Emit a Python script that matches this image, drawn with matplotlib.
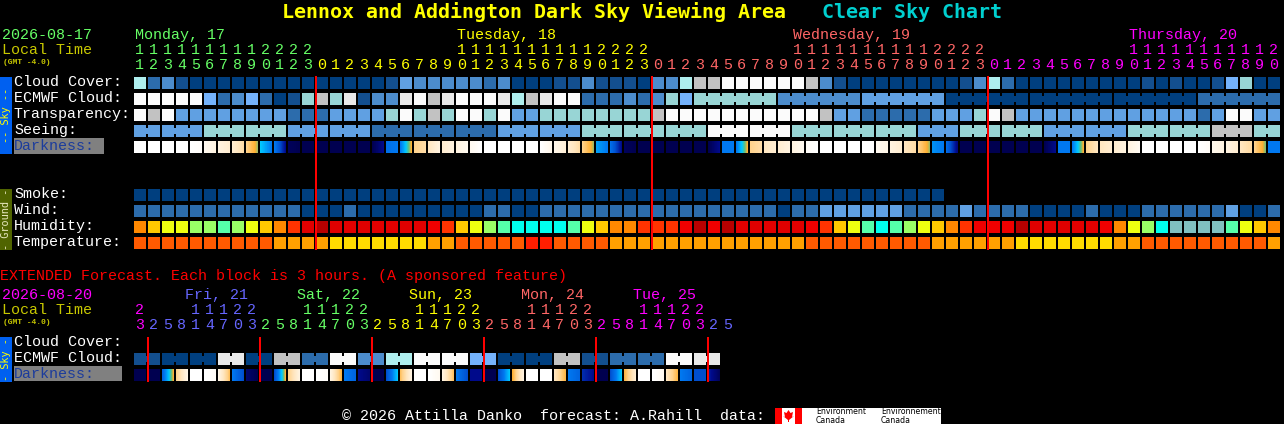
import numpy as np
import matplotlib
matplotlib.use("Agg")
import matplotlib.pyplot as plt
from matplotlib.patches import Rectangle, Polygon
from matplotlib.colors import LinearSegmentedColormap

# ---------- data ----------
cloud_cover = [3,8,7,9,10,10,10,10,10,10,10,10,10,10,10,10,10,10,9,6,7,
               7,7,7,7,8,7,10,10,10,9,9,7,9,9,9,10,7,7,3,2,2,0,0,0,0,0,0,2,7,9,10,
               10,10,10,10,10,10,10,9,7,3,8,10,10,10,10,10,10,10,10,10,9,10,9,10,10,9,5,4,10,10]
ecmwf_cloud = [0,0,0,0,0,5,8,7,5,8,10,9,4,2,4,1,9,7,7,1,0,
               2,1,0,0,0,1,3,2,1,0,0,8,8,8,7,8,7,4,5,
               4,4,4,4,4,4,7,7,7,7,7,7,6,6,6,6,6,6,
               10,10,10,10,10,10,10,10,10,10,10,10,10,10,10,10,10,10,8,8,8,8,8,8]
ecmwf_sizes = [1]*40 + [6]*7
transparency = [0,2,0,6,6,6,6,6,6,6,6,8,8,8,6,6,6,6,4,0,4,
                2,4,0,0,4,0,6,6,4,4,4,4,4,4,4,4,2,0,0,0,0,0,0,0,0,0,0,0,2,6,6,
                8,8,8,8,8,6,6,6,4,0,2,6,6,6,6,6,6,6,6,6,6,6,6,6,8,6,0,0,6,6]
seeing_values = [6,6,4,4,6,6,8,8,8,6,6,4,4,4,0,0,4,4,4,6,4,4,6,6,4,4,2,4]
seeing_sizes = [2] + [3]*26 + [2]
darkness_left = [0,0,0,0,0,.5,1,1.5,3,5,6,8.8,9,9,9,9,9,9,6.2,6,3,
                 2,1.5,1,.5,0,0,0,0,0,.7,1.5,3,5.5,6.2,8.8,9,9,9,9,9,9,6,6,3,2,1.5,1,.3,0,0,0,
                 0,.5,1,2,3,5.7,6.3,9,9,9,9,9,9,9,6,6,3,2,1.5,1,0,0,0,0,0,.6,1,2,3,6]
darkness_right = [0,0,0,0,.2,1,1.5,2.5,4.3,6,8,9,9,9,9,9,9,8,6,4,2.5,
                  1,1,.5,0,0,0,0,0,.7,1.3,2.5,4.3,6,8,9,9,9,9,9,9,8,6,4,2.5,1.5,1,.5,0,0,0,0,
                  0,.8,1.5,2.5,4.3,6,8.2,9,9,9,9,9,9,8,6,4,2,1.5,1,.4,0,0,0,0,.3,1,1.5,2.6,4.4,6]
smoke = [10]*58
wind = [8,8,8,8,8,8,8,8,8,8,8,8,10,10,10,8,10,10,10,10,10,
        10,10,10,10,8,8,10,10,8,8,8,8,8,8,8,8,8,8,8,8,8,8,8,8,8,10,8,8,6,6,6,
        6,6,6,8,8,8,8,6,8,8,8,8,10,10,10,10,8,10,10,10,8,8,8,8,8,8,6,10,10,8]
humidity = list("nyllggsglynorxrrrrrrr"
                "RoylgsccccslynnoooRxRxrrrrrRoyl"
                "scsglynoRRRxrrrrrRnlgcttttslyn")
temperature = list("aaaaaaaaaabbbbccccccc"
                   "bbaaaaaddaaaabbbbbbbbbbbbbbaaaa"
                   "aaaaabbbbbbcccccccbbaaaaaaaaab")
ext_ecmwf = [9,10,10,1,10,2,8,0,7,3,0,0,5,10,10,2,9,8,8,0,1]
ext_dark_left = [9,9,6.5,3,0,0,.8,6,8.5,9,7,3,0,0,1,6,8,9,7,3.5,0,0,1,6,8,9,7,4,0,0,2,6,7.5,9,7,3.8,0,0,2,6,7,7.7]
ext_dark_right = [9,9,4,.8,0,.3,3.5,7,9,9,4,1,0,.2,3.8,6.5,8.5,9,5,1,0,.5,3.5,7,8,9,5,1,0,0,3.8,6.5,8,9,5,1.5,0,.5,3.8,6.5,7,8.8]
ext_hours = [23] + [2,5,8,11,14,17,20,23]*5 + [2,5]
main_first_hour = 11
main_labels = ["Cloud Cover:", "ECMWF Cloud:", "Transparency:", "Seeing:", "Darkness:"]
ground_labels = ["Smoke:", "Wind:", "Humidity:", "Temperature:"]
ext_labels = ["Cloud Cover:", "ECMWF Cloud:", "Darkness:"]
day_labels = [("Monday, 17", 0), ("Tuesday, 18", 23), ("Wednesday, 19", 47), ("Thursday, 20", 71)]
ext_day_labels = [("Fri, 21", 185), ("Sat, 22", 297), ("Sun, 23", 409), ("Mon, 24", 521), ("Tue, 25", 633)]

# ---------- style ----------
sky_colors = {0:"#fbfbfb",1:"#e9e9e9",2:"#c2c2c2",3:"#aeeeee",4:"#98d5d5",5:"#74b2fb",
              6:"#60a0e2",7:"#4c8ccc",8:"#2c6cac",9:"#134f8f",10:"#003f7f"}
hum_colors = {"x":"#b80000","r":"#e00000","R":"#f00000","o":"#ff3300","n":"#ff8800","y":"#ffc800",
              "l":"#eeff10","g":"#99ff66","s":"#55ffaa","c":"#00ffee","t":"#80c0c0"}
temp_colors = {"a":"#ff5a00","b":"#ffa000","c":"#ffdc00","d":"#ff1e00"}
dark_cmap = LinearSegmentedColormap.from_list("dark", [
    (0/9,"#ffffff"),(1/9,"#fff3e0"),(2/9,"#ffe6c0"),(3/9,"#ffd28c"),(4/9,"#ffaf32"),(4.5/9,"#60c080"),
    (5/9,"#00c8ff"),(6/9,"#0078f0"),(7/9,"#0050d0"),(8/9,"#000a8c"),(1,"#000050")])
GREEN, YEL, SAL, MAG, BLUE = "#66ff66", "#ffff00", "#ff6666", "#ff00ff", "#6666ff"
LOCAL = "#c8c800"
X0, STEP, BW, BH = 134, 14, 12, 12
MONO = "Liberation Mono"
BOLD = "DejaVu Sans Mono"
FS = 10.8
DY = -1.3

fig = plt.figure(figsize=(12.84, 4.24), dpi=100, facecolor="black")
ax = fig.add_axes([0, 0, 1, 1])
ax.set_xlim(0, 1284); ax.set_ylim(424, 0); ax.axis("off")

def rect(x, y, w, h, c, z=2):
    ax.add_patch(Rectangle((x, y), w, h, facecolor=c, edgecolor="none", linewidth=0, zorder=z, antialiased=False))

def txt(x, y, s, c="white", fs=FS, w="normal", ha="left", fam=MONO, dy=DY):
    ax.text(x, y + dy, s, color=c, fontsize=fs, fontweight=w, ha=ha, va="baseline", family=fam, zorder=6)

def row(y, values, palette, sizes=None):
    if sizes is None:
        sizes = [1]*len(values)
    i = 0
    for s in sizes:
        for k in range(s):
            x = X0 + STEP*(i+k)
            rect(x, y, BW, BH, palette[values[i+k]])
            if k < s-1:
                rect(x+BW, y+3, STEP-BW, BH-6, palette[values[i+k]])
        i += s

def dark_row(y, left, right):
    for i, (a, b) in enumerate(zip(left, right)):
        x = X0 + STEP*i
        ax.pcolormesh(np.linspace(x, x+BW, BW+1), [y, y+BH], np.linspace(a, b, BW)[None, :],
                      cmap=dark_cmap, vmin=0, vmax=9, antialiased=False, linewidth=0, zorder=2)

# expand seeing groups to columns
seeing = [v for v, s in zip(seeing_values, seeing_sizes) for _ in range(s)]

# ---------- main ----------
row(77, cloud_cover, sky_colors)
row(93, ecmwf_cloud, sky_colors, ecmwf_sizes)
row(109, transparency, sky_colors)
row(125, seeing, sky_colors, seeing_sizes)
dark_row(141, darkness_left, darkness_right)
row(189, smoke, sky_colors)
row(205, wind, sky_colors)
row(221, humidity, hum_colors)
row(237, temperature, temp_colors)
for c in (13, 37, 61):
    rect(X0 + STEP*c - 1, 76, 2, 174, "#ff0000", z=5)

# title
txt(282, 18, "Lennox and Addington Dark Sky Viewing Area", YEL, 14.45, "bold", fam=BOLD, dy=0)
txt(822, 18, "Clear Sky Chart", "#00d0d0", 14.45, "bold", fam=BOLD, dy=0)

# header
txt(2, 40, "2026-08-17", GREEN)
txt(2, 55, "Local Time", LOCAL)
txt(3, 65, "(GMT -4.0)", LOCAL, 5.8, "bold")
for (s, c), col in zip(day_labels, (GREEN, YEL, SAL, MAG)):
    txt(X0 + STEP*c + 1, 40, s, col)
for i in range(len(cloud_cover)):
    h = (main_first_hour + i) % 24
    col = GREEN if i < 13 else YEL if i < 37 else SAL if i < 61 else MAG
    cx = X0 + STEP*i + 5.5
    if h >= 10:
        txt(cx, 55, str(h//10), col, ha="center")
    txt(cx, 70, str(h % 10), col, ha="center")

# labels
for s, y in zip(main_labels[:4], (87, 103, 119, 135)):
    txt(14, y, s)
rect(14, 138, 90, 16, "#808080", z=1)
txt(14, 151, main_labels[4], "#1c3c9c")
for s, y in zip(ground_labels, (199, 215, 231, 247)):
    txt(14, y, s)

# side bars
rect(0, 77, 12, 77, "#0060f0", z=1)
ax.text(6, 115.5, "-- Sky --", color=YEL, fontsize=7.4, rotation=90, ha="center", va="center", family=BOLD, zorder=6)
rect(0, 189, 12, 61, "#506400", z=1)
ax.text(6, 219.5, "- Ground -", color="#e8e8c0", fontsize=7.4, rotation=90, ha="center", va="center", family=BOLD, zorder=6)
rect(0, 337, 12, 45, "#0060f0", z=1)
ax.text(6, 359.5, "- Sky -", color=YEL, fontsize=7.4, rotation=90, ha="center", va="center", family=BOLD, zorder=6)

# ---------- extended ----------
txt(0, 281, "EXTENDED Forecast. Each block is 3 hours. (A sponsored feature)", "#ff0000")
txt(2, 300, "2026-08-20", MAG)
txt(2, 315, "Local Time", LOCAL)
txt(3, 325, "(GMT -4.0)", LOCAL, 5.8, "bold")
for (s, x), col in zip(ext_day_labels, (BLUE, GREEN, YEL, SAL, MAG)):
    txt(x, 300, s, col)
for i, h in enumerate(ext_hours):
    col = MAG if i == 0 else (BLUE, GREEN, YEL, SAL, MAG, BLUE)[(i-1)//8]
    cx = X0 + STEP*i + 5.5
    if h >= 10:
        txt(cx, 315, str(h//10), col, ha="center")
    txt(cx, 330, str(h % 10), col, ha="center")
for s, y in zip(ext_labels[:2], (347, 363)):
    txt(14, y, s)
rect(14, 366, 108, 15, "#808080", z=1)
txt(14, 379, ext_labels[2], "#1c3c9c")
ext_cols = [v for v in ext_ecmwf for _ in range(2)]
row(353, ext_cols, sky_colors, [2]*len(ext_ecmwf))
dark_row(369, ext_dark_left, ext_dark_right)
for c in (1, 9, 17, 25, 33, 41):
    rect(X0 + STEP*c - 1, 337, 2, 45, "#ff0000", z=5)

# ---------- footer ----------
txt(342, 420, "\u00a9 2026 Attilla Danko  forecast: A.Rahill  data:", dy=0)
rect(775, 408, 166, 16, "white", z=1)
rect(775, 408, 7, 16, "#ff0000")
rect(795, 408, 7, 16, "#ff0000")
ax.add_patch(Polygon([(788.5,410),(790.5,413),(793,412),(792,417),(794,416),(789,420),(789,422),(788,422),(788,420),(783,416),(785,417),(784,412),(786.5,413)],
                     closed=True, facecolor="#ff0000", edgecolor="none", zorder=3))
for x, s in ((816, "Environment"), (881, "Environnement")):
    ax.text(x, 414.5, s, color="black", fontsize=5.6, family="DejaVu Sans", ha="left", va="baseline", zorder=6)
    ax.text(x, 423, "Canada", color="black", fontsize=5.6, family="DejaVu Sans", ha="left", va="baseline", zorder=6)

ax.set_xlim(0, 1284); ax.set_ylim(424, 0)
fig.savefig("out.png", dpi=100, facecolor="black")
